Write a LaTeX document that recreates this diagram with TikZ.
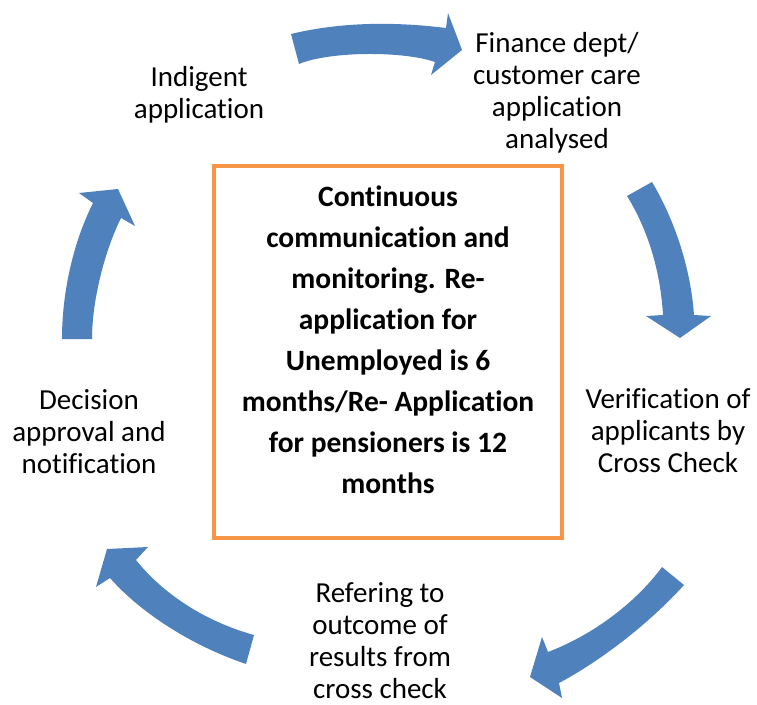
\documentclass[tikz,border=0pt]{standalone}
\usepackage{fontspec}
\setmainfont{Carlito}[Ligatures=NoCommon]
\definecolor{arrowblue}{HTML}{4F81BD}
\definecolor{boxorange}{HTML}{F79646}
\tikzset{
  cyclearrow/.style={fill=arrowblue, draw=none},
  lbl/.style={align=center, inner sep=0pt, anchor=base, font=\fontsize{29}{32}\selectfont},
  boxtxt/.style={align=center, inner sep=0pt, anchor=base, font=\fontsize{29.5}{41}\selectfont\bfseries},
}
\begin{document}
\begin{tikzpicture}[x=1pt,y=-1pt]
\useasboundingbox (0,0) rectangle (757,704);
% central box
\node (box) [draw=boxorange, line width=4.5pt, minimum width=348pt, minimum height=372pt, inner sep=0pt] at (388,352) {};
\node (boxtext) [boxtxt] at (388,493) {Continuous\\communication and\\monitoring. Re-\\application for\\Unemployed is 6\\months/Re- Application\\for pensioners is 12\\months};
% labels
\node (indigent) [lbl] at (199,118) {Indigent\\application};
\node (finance) [lbl] at (557,148) {Finance dept/\\customer care\\application\\analysed};
\node (verif) [lbl] at (668,472) {Verification of\\applicants by\\Cross Check};
\node (refer) [lbl] at (380,698) {Refering to\\outcome of\\results from\\cross check};
\node (decision) [lbl] at (89,473) {Decision\\approval and\\notification};
% arrows
\fill[cyclearrow] (291,34) -- (299,64) .. controls (330,51) and (404,51) .. (435,62)
  -- (431,75) -- (462,50) -- (448,13) -- (446,28)
  .. controls (395,21.7) and (342,21.7) .. (291,34) -- cycle;
\fill[cyclearrow] (627,196) -- (652,182) .. controls (670,212) and (690,260) .. (694,315)
  -- (711,316) -- (680,338) -- (646,316) -- (663,315)
  .. controls (660,265) and (645,225) .. (627,196) -- cycle;
\fill[cyclearrow] (684,585) -- (662,567) .. controls (640,597) and (600,632) .. (548,652)
  -- (542,637) -- (530,677) -- (562,698) -- (559,683)
  .. controls (595,664) and (645,628) .. (684,585) -- cycle;
\fill[cyclearrow] (254,635) -- (246,664) .. controls (190,645) and (140,612) .. (110,578)
  -- (96,587) -- (107,549) -- (148,547) -- (136,560)
  .. controls (160,590) and (200,620) .. (254,635) -- cycle;
\fill[cyclearrow] (92,339) -- (62,339) .. controls (62,295) and (72,245) .. (93,203)
  -- (79,193) -- (118,189) -- (135,226) -- (121,218)
  .. controls (105,250) and (92,300) .. (92,339) -- cycle;
\end{tikzpicture}
\end{document}
